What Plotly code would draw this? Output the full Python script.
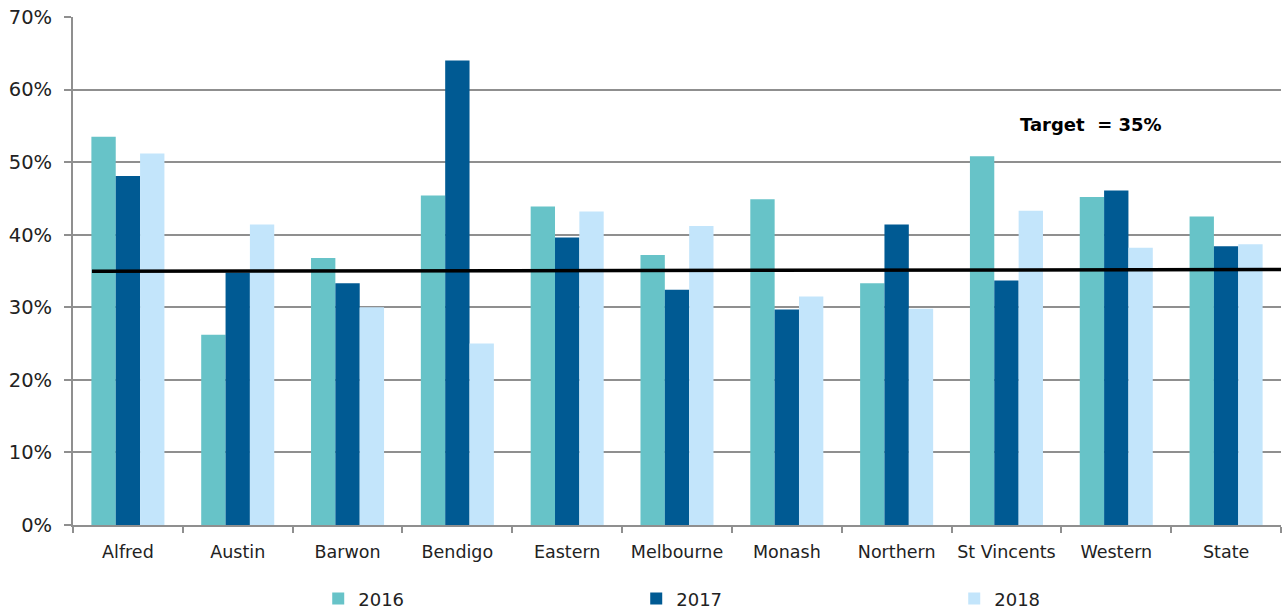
import plotly.graph_objects as go

categories = ["Alfred", "Austin", "Barwon", "Bendigo", "Eastern", "Melbourne",
              "Monash", "Northern", "St Vincents", "Western", "State"]
values_2016 = [53.5, 26.2, 36.8, 45.4, 43.9, 37.2, 44.9, 33.3, 50.8, 45.2, 42.5]
values_2017 = [48.1, 34.8, 33.3, 64.0, 39.6, 32.4, 29.7, 41.4, 33.7, 46.1, 38.4]
values_2018 = [51.2, 41.4, 30.0, 25.0, 43.2, 41.2, 31.5, 29.8, 43.3, 38.2, 38.7]
series_names = ["2016", "2017", "2018"]
series_colors = ["#67C3C8", "#005A93", "#C3E5FB"]
target_start, target_end = 34.95, 35.2
target_label = "Target  = 35%"
y_ticks = [0, 10, 20, 30, 40, 50, 60, 70]

FONT = "DejaVu Sans"
fig = go.Figure()
for name, vals, col in zip(series_names, [values_2016, values_2017, values_2018], series_colors):
    fig.add_trace(go.Bar(x=categories, y=vals, name=name, marker_color=col,
                         marker_line_width=0))

fig.add_shape(type="line", xref="x domain", yref="y", x0=0.0157, x1=1.0,
              y0=target_start, y1=target_end, line=dict(color="black", width=3.5))
fig.add_annotation(xref="x domain", yref="y", x=0.843, y=55.2, xanchor="center",
                   text="<b>" + target_label + "</b>",
                   showarrow=False, font=dict(family=FONT, size=18, color="#000"))

grid = "#8f8f8f"
fig.update_layout(
    width=1282, height=612,
    margin=dict(l=73, r=1, t=17, b=87, autoexpand=False),
    plot_bgcolor="white", paper_bgcolor="white",
    barmode="group", bargap=0.335, bargroupgap=0,
    font=dict(family=FONT, size=17, color="#222"),
    showlegend=True,
    legend=dict(orientation="h", x=0.203, xanchor="left", y=-0.109, yanchor="top",
                entrywidth=273, entrywidthmode="pixels",
                font=dict(family=FONT, size=18, color="#222")),
    xaxis=dict(showline=True, linecolor=grid, linewidth=2, ticks="outside",
               tickson="boundaries", ticklen=6, tickcolor=grid, tickwidth=2,
               ticklabelstandoff=10, showgrid=False, tickangle=0,
               tickfont=dict(size=17.5)),
    yaxis=dict(range=[0, 70], tickvals=y_ticks, ticktext=[f"{v}%" for v in y_ticks],
               showline=True, linecolor=grid, linewidth=2, ticks="outside",
               ticklen=7, tickcolor=grid, tickwidth=2, showgrid=True,
               gridcolor=grid, gridwidth=2, zeroline=False, ticklabelstandoff=8,
               tickfont=dict(size=19.5)),
)
fig.write_html("out.html", config={"displayModeBar": False},
               post_script="document.body.style.margin='0';document.body.style.overflow='hidden';")
